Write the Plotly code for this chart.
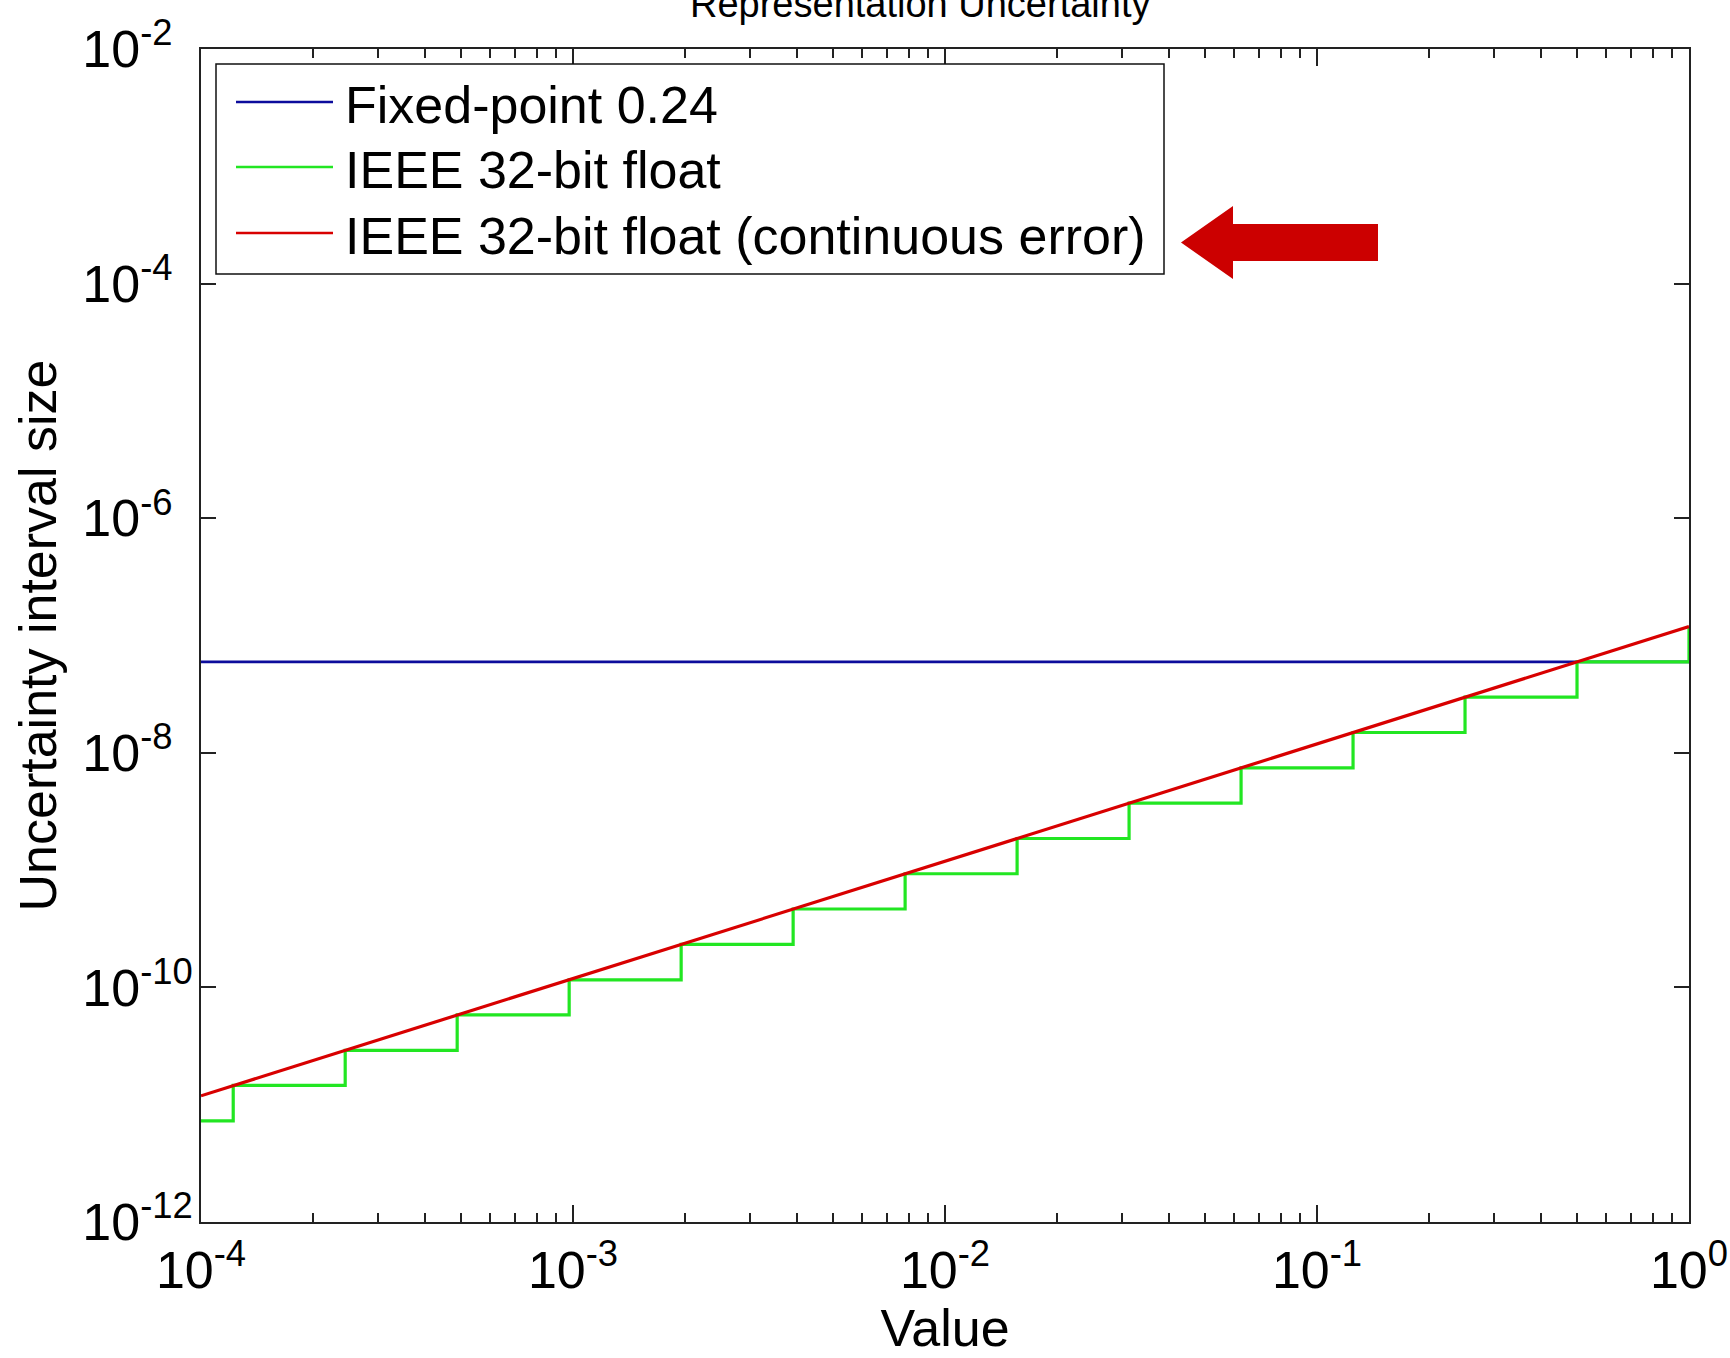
import plotly.graph_objects as go

# ---- data ----
fixed_x = [1e-4, 1.0]
fixed_y = [5.96e-8, 5.96e-8]

float_step_x = [1.0e-4, 1.2207e-4, 2.4414e-4, 4.8828e-4, 9.7656e-4, 1.9531e-3,
                3.9063e-3, 7.8125e-3, 1.5625e-2, 3.125e-2, 6.25e-2, 0.125, 0.25, 0.5, 1.0]
float_step_y = [7.28e-12, 1.46e-11, 2.91e-11, 5.82e-11, 1.16e-10, 2.33e-10,
                4.66e-10, 9.31e-10, 1.86e-9, 3.73e-9, 7.45e-9, 1.49e-8, 2.98e-8, 5.96e-8, 1.19e-7]

cont_x = [1e-4, 1.0]
cont_y = [1.19e-11, 1.19e-7]

series_names = ["Fixed-point 0.24", "IEEE 32-bit float", "IEEE 32-bit float (continuous error)"]
series_colors = ["#0c0c9c", "#22e622", "#d80000"]

x_tickvals = [1e-4, 1e-3, 1e-2, 1e-1, 1e0]
x_ticktext = ["10<sup>-4</sup>", "10<sup>-3</sup>", "10<sup>-2</sup>", "10<sup>-1</sup>", "10<sup>0</sup>"]
x_minor_tickvals = [m * 10.0 ** e for e in range(-4, 0) for m in range(2, 10)]
y_tickvals = [1e-12, 1e-10, 1e-8, 1e-6, 1e-4, 1e-2]
# figure space pads the one-digit exponents so the labels line up on the left, as in the reference
y_ticktext = ["10<sup>-12</sup>", "10<sup>-10</sup>", "10<sup>-8\u2007</sup>", "10<sup>-6\u2007</sup>",
              "10<sup>-4\u2007</sup>", "10<sup>-2\u2007</sup>"]

FONT = "Liberation Sans, Arial, Helvetica, sans-serif"
W, H = 1730, 1358
PL, PR, PT, PB = 201, 1689, 49, 1222


def px(xp):
    return (xp - PL) / (PR - PL)


def py(yp):
    return (PB - yp) / (PB - PT)


fig = go.Figure()
fig.add_trace(go.Scatter(x=fixed_x, y=fixed_y, mode="lines", name=series_names[0],
                         line=dict(color=series_colors[0], width=2.6)))
fig.add_trace(go.Scatter(x=float_step_x, y=float_step_y, mode="lines", name=series_names[1],
                         line=dict(color=series_colors[1], width=3.2, shape="hv")))
fig.add_trace(go.Scatter(x=cont_x, y=cont_y, mode="lines", name=series_names[2],
                         line=dict(color=series_colors[2], width=3.2)))

axis_common = dict(
    type="log", showgrid=False, zeroline=False, showline=True, linecolor="#222222",
    linewidth=1.6, mirror="ticks", ticks="inside", tickcolor="#222222", tickwidth=1.6,
    tickfont=dict(family=FONT, size=52, color="black"),
)

fig.update_xaxes(
    **axis_common, range=[-4, 0], tickvals=x_tickvals, ticktext=x_ticktext, ticklen=17,
    ticklabelstandoff=2,
    minor=dict(ticks="inside", ticklen=9, tickcolor="#222222", tickwidth=1.6, showgrid=False,
               tickmode="array", tickvals=x_minor_tickvals),
    title=dict(text="Value", font=dict(family=FONT, size=52, color="black"), standoff=4),
)
fig.update_yaxes(
    **axis_common, range=[-12, -2], tickvals=y_tickvals, ticktext=y_ticktext, ticklen=15,
    ticklabelstandoff=-4,
    title=dict(text="Uncertainty interval size", font=dict(family=FONT, size=52, color="black"),
               standoff=9),
)

# arrow pointing at the legend entry
arrow = [(1181, 242.5), (1233, 206), (1233, 224), (1378, 224), (1378, 261), (1233, 261), (1233, 279)]
path = "M " + " L ".join(f"{px(a):.5f},{py(b):.5f}" for a, b in arrow) + " Z"

shapes = [dict(type="path", xref="paper", yref="paper", path=path,
               fillcolor="#cc0000", line=dict(width=0), layer="above")]
annotations = [dict(text="Representation Uncertainty", xref="paper", yref="paper",
                    x=px(920), y=py(27), xanchor="center", yanchor="bottom",
                    showarrow=False, font=dict(family=FONT, size=38, color="black"))]

# legend box drawn like the reference (long sample lines)
shapes.append(dict(type="rect", xref="paper", yref="paper", x0=px(216), x1=px(1164),
                   y0=py(274), y1=py(64), fillcolor="white",
                   line=dict(color="#111111", width=1.5), layer="above"))
row_y = [102, 167, 233]
for name, color, ry in zip(series_names, series_colors, row_y):
    shapes.append(dict(type="line", xref="paper", yref="paper", x0=px(236), x1=px(333),
                       y0=py(ry), y1=py(ry), line=dict(color=color, width=2.6), layer="above"))
    annotations.append(dict(text=name, xref="paper", yref="paper", x=px(343), y=py(ry + 3),
                            xanchor="left", yanchor="middle", showarrow=False,
                            font=dict(family=FONT, size=52, color="black")))

fig.update_layout(
    width=W, height=H,
    margin=dict(l=PL, r=W - PR, t=PT, b=H - PB, autoexpand=False),
    paper_bgcolor="white", plot_bgcolor="white",
    font=dict(family=FONT, color="black"),
    showlegend=False,
    shapes=shapes,
    annotations=annotations,
)

fig.write_html("out.html")
